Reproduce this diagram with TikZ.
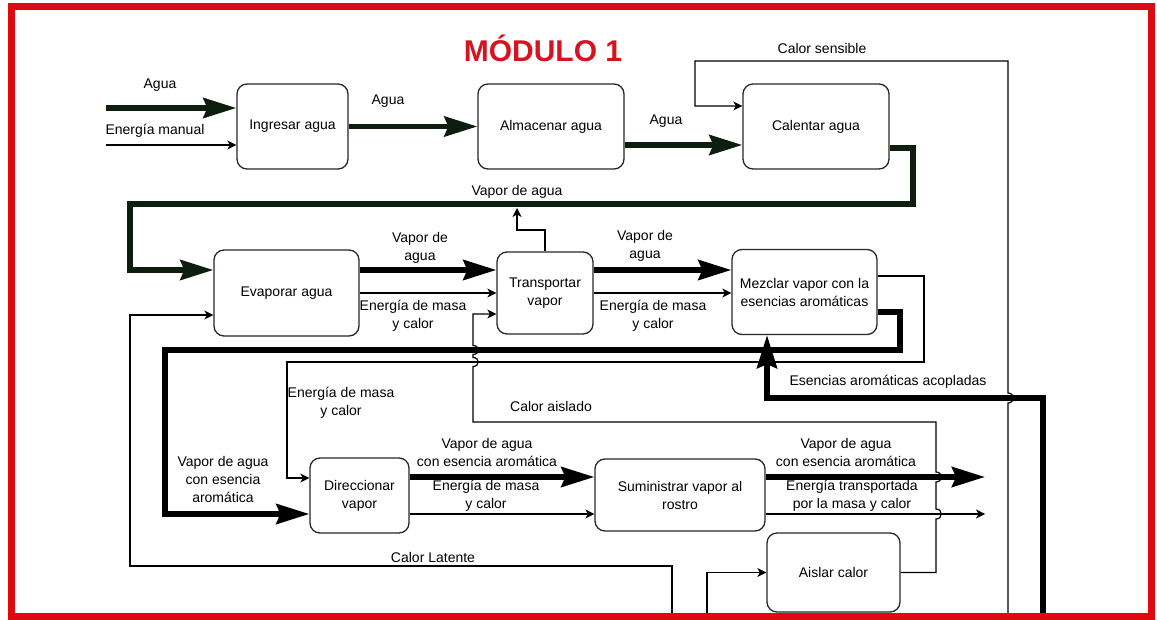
\documentclass[tikz,border=0pt]{standalone}
\usepackage{fontspec}
\setmainfont{Liberation Sans}
\usetikzlibrary{arrows.meta}
\definecolor{frame}{RGB}{222,10,16}
\definecolor{ttl}{RGB}{212,20,30}
\definecolor{wat}{RGB}{14,30,14}
\begin{document}
\begin{tikzpicture}[x=1pt,y=-1pt,
  box/.style={draw=black!85,line width=1.3pt,rounded corners=10pt,inner sep=0pt,align=center,font=\fontsize{14}{18}\selectfont},
  lbl/.style={inner sep=0pt,align=center,font=\fontsize{14}{18}\selectfont},
  thk/.style={line width=5.5pt,-{Stealth[length=33pt,width=20pt,inset=4pt]}},
  thn/.style={line width=1.2pt,-{Stealth[length=9pt,width=9pt,inset=2.5pt]}}]
\useasboundingbox (0,0) rectangle (1157,620);

% title
\node[font=\fontsize{30}{34}\selectfont\bfseries,text=ttl,inner sep=0pt] (title) at (543,48) {MÓDULO 1};

% boxes
\node[box,minimum width=111pt,minimum height=85pt] (ingresar) at (292.5,126.5) {Ingresar agua};
\node[box,minimum width=146pt,minimum height=85pt] (almacenar) at (551,126.5) {Almacenar agua};
\node[box,minimum width=146pt,minimum height=85pt] (calentar) at (816,126.5) {Calentar agua};
\node[box,minimum width=145pt,minimum height=86pt] (evaporar) at (286.5,293) {Evaporar agua};
\node[box,minimum width=96pt,minimum height=82pt] (transportar) at (545,293) {Transportar\\vapor};
\node[box,minimum width=145pt,minimum height=85pt] (mezclar) at (804.5,292) {Mezclar vapor con la\\esencias aromáticas};
\node[box,minimum width=99pt,minimum height=75pt] (direccionar) at (359.5,495.5) {Direccionar\\vapor};
\node[box,minimum width=170pt,minimum height=72pt] (suministrar) at (680,495) {Suministrar vapor al\\rostro};
\node[box,minimum width=133pt,minimum height=79pt] (aislar) at (833.5,572.5) {Aislar calor};

% free ends
\coordinate (inAgua) at (106,108);
\coordinate (inEnergia) at (106,145);
\coordinate (sensible) at (1008,616);
\coordinate (latente) at (672,616);
\coordinate (inAislar) at (707,616);
\coordinate (esencias) at (1043,616);
\coordinate (vaporUp) at (517,208);
\coordinate (outVapor) at (985,477);
\coordinate (outEnergia) at (985,514);

% row 1
\draw[thk,draw=wat] (inAgua) -- (inAgua -| ingresar.west);
\draw[thn] (inEnergia) -- (inEnergia -| ingresar.west);
\draw[thk,draw=wat] (ingresar.east) -- (ingresar.east -| almacenar.west);
\draw[thk,draw=wat] ([yshift=-18.5pt]almacenar.east) -- ([yshift=-18.5pt]calentar.west);
\draw[thn] (sensible) -- (1008,403) .. controls (1015,403) and (1015,393) .. (1008,393) -- (1008,61) -- (695,61) -- (695,106) -- ([yshift=20.5pt]calentar.west);

% calentar -> evaporar
\draw[thk,draw=wat] ([yshift=-21.5pt]calentar.east) -- (913,148) -- (913,204) -- (130,204) -- (130,270) -- ([yshift=23pt]evaporar.west);

% row 2
\draw[thn] (transportar.north) -- (545,230) -- (517,230) -- (vaporUp);
\draw[thk] ([yshift=23pt]evaporar.east) -- ([yshift=23pt]transportar.west);
\draw[thn] (evaporar.east) -- (evaporar.east -| transportar.west);
\draw[thk] ([yshift=23pt]transportar.east) -- ([yshift=23pt]transportar.east -| mezclar.west);
\draw[thn] (transportar.east) -- (transportar.east -| mezclar.west);

% mezclar outputs
\draw[thk] ([yshift=-20pt]mezclar.east) -- (900,312) -- (900,350) -- (165,350) -- (165,514) -- (165,514 -| direccionar.west);
\draw[thn] ([yshift=16pt]mezclar.east) -- (924,276) -- (924,362) -- (287,362) -- (287,478) -- (287,478 -| direccionar.west);

% esencias
\draw[thk] (esencias) -- (1043,398) -- (767,398) -- (767,398 |- mezclar.south);

% calor aislado
\draw[thn] (aislar.east) -- (936,572.5) -- (936,519) .. controls (943,519) and (943,509) .. (936,509)
  -- (936,482) .. controls (943,482) and (943,472) .. (936,472) -- (936,422) -- (473,422)
  -- (473,366.5) .. controls (480,366.5) and (480,357.5) .. (473,357.5)
  -- (473,354.5) .. controls (480,354.5) and (480,345.5) .. (473,345.5)
  -- (473,314) -- ([yshift=-21pt]transportar.west);

% calor latente
\draw[thn] (latente) -- (672,566) -- (130,566) -- (130,315) -- ([yshift=-22pt]evaporar.west);

% row 3
\draw[thk] (direccionar.east |- 0,477) -- (suministrar.west |- 0,477);
\draw[thn] (direccionar.east |- 0,514) -- (suministrar.west |- 0,514);
\draw[thk] (suministrar.east |- outVapor) -- (outVapor);
\draw[thn] (suministrar.east |- outEnergia) -- (outEnergia);
\draw[thn] (inAislar) -- (707,572.5) -- (aislar.west);

% labels
\node[lbl] (l1) at (160,85) {Agua};
\node[lbl] (l2) at (155,131) {Energía manual};
\node[lbl] (l3) at (388,101) {Agua};
\node[lbl] (l4) at (666,121) {Agua};
\node[lbl] (l5) at (822,48) {Calor sensible};
\node[lbl] (l6) at (517,192) {Vapor de agua};
\node[lbl] (l7) at (420,248) {Vapor de\\agua};
\node[lbl] (l8) at (413,316) {Energía de masa\\y calor};
\node[lbl] (l9) at (645,246) {Vapor de\\agua};
\node[lbl] (l10) at (653,316) {Energía de masa\\y calor};
\node[lbl] (l11) at (888,382) {Esencias aromáticas acopladas};
\node[lbl] (l12) at (341,403) {Energía de masa\\y calor};
\node[lbl] (l13) at (551,406) {Calor aislado};
\node[lbl] (l14) at (223,479) {Vapor de agua\\con esencia\\aromática};
\node[lbl] (l15) at (487,452) {Vapor de agua\\con esencia aromática};
\node[lbl] (l16) at (486,496) {Energía de masa\\y calor};
\node[lbl] (l17) at (846,452) {Vapor de agua\\con esencia aromática};
\node[lbl] (l18) at (852,496) {Energía transportada\\por la masa y calor};
\node[lbl] (l19) at (433,557) {Calor Latente};

% frame
\draw[frame,line width=7pt] (11.5,6.5) rectangle (1151,616.5);
\end{tikzpicture}
\end{document}
